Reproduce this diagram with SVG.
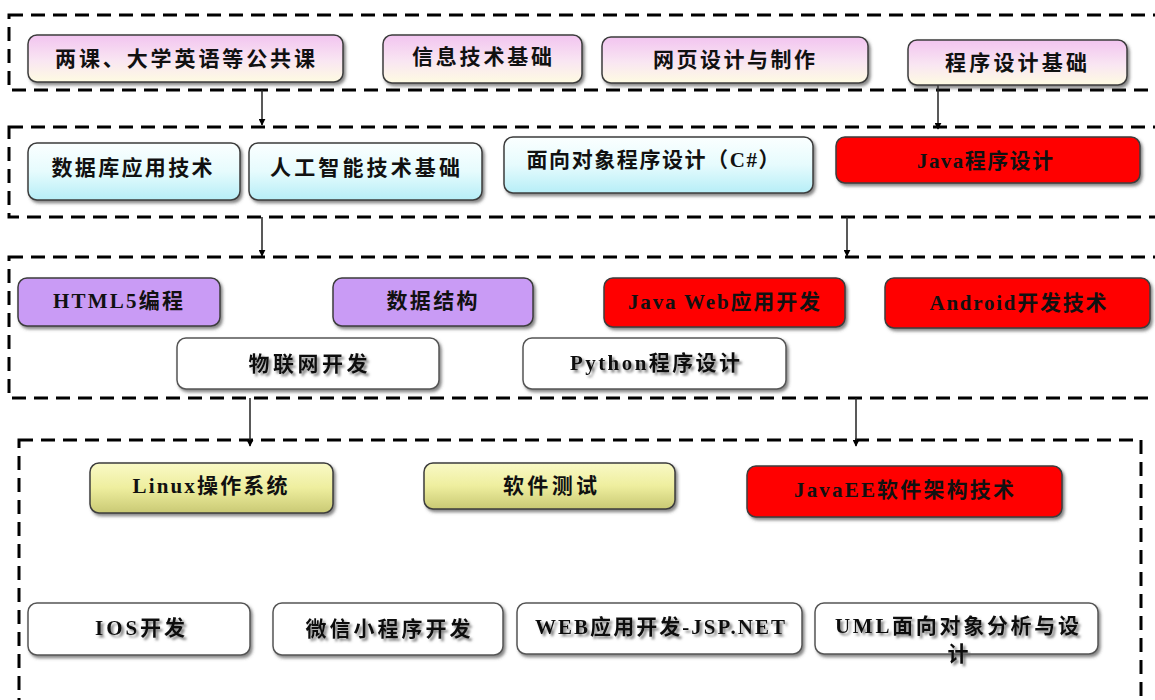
<svg xmlns="http://www.w3.org/2000/svg" width="1155" height="700" viewBox="0 0 1155 700">
<defs>
<linearGradient id="gPink" x1="0" y1="0" x2="0" y2="1">
<stop offset="0" stop-color="#f2c4f0"/><stop offset="0.55" stop-color="#f9e6f2"/><stop offset="1" stop-color="#fefbe2"/>
</linearGradient>
<linearGradient id="gCyan" x1="0" y1="0" x2="0" y2="1">
<stop offset="0" stop-color="#fbffff"/><stop offset="0.5" stop-color="#e6fbfd"/><stop offset="1" stop-color="#b6eef7"/>
</linearGradient>
<linearGradient id="gYel" x1="0" y1="0" x2="0" y2="1">
<stop offset="0" stop-color="#f9f9c6"/><stop offset="0.5" stop-color="#eeee9e"/><stop offset="1" stop-color="#c9c974"/>
</linearGradient>
<filter id="sh" x="-5%" y="-20%" width="115%" height="150%">
<feDropShadow dx="2" dy="2.5" stdDeviation="1.5" flood-color="#444" flood-opacity="0.65"/>
</filter>
<filter id="tsh" x="-5%" y="-20%" width="115%" height="160%">
<feDropShadow dx="2.5" dy="2.5" stdDeviation="1" flood-color="#666" flood-opacity="0.8"/>
</filter>
<marker id="ah" viewBox="0 0 10 10" refX="9" refY="5" markerWidth="7" markerHeight="7" orient="auto" markerUnits="userSpaceOnUse">
<path d="M0,0 L10,5 L0,10 z" fill="#000"/>
</marker>
<style>
.grp{fill:none;stroke:#000;stroke-width:3;stroke-dasharray:14 8}
.box{stroke:#3c3c3c;stroke-width:1.5;filter:url(#sh)}
.pink{fill:url(#gPink)}
.cyan{fill:url(#gCyan)}
.purp{fill:#c99bf5}
.red{fill:#ff0000}
.yel{fill:url(#gYel)}
.wht{fill:#ffffff;stroke:#555}
.t{font-family:"Liberation Serif","Noto Sans CJK SC",serif;font-weight:bold;font-size:21px;fill:#111;text-anchor:middle}
.tw{filter:url(#tsh)}
.con{stroke:#222;stroke-width:1.5;fill:none;marker-end:url(#ah)}
</style>
</defs>
<rect width="1155" height="700" fill="#ffffff"/>

<g id="groups">
<rect class="grp" x="9" y="15" width="1170" height="75"/>
<rect class="grp" x="9" y="127" width="1170" height="90"/>
<rect class="grp" x="9" y="257" width="1170" height="141"/>
<rect class="grp" x="19" y="440" width="1122" height="290"/>
</g>

<g id="connectors">
<line class="con" x1="262" y1="90" x2="262" y2="125"/>
<line class="con" x1="938" y1="85" x2="938" y2="129"/>
<line class="con" x1="262" y1="217" x2="262" y2="256"/>
<line class="con" x1="847" y1="217" x2="847" y2="256"/>
<line class="con" x1="250" y1="398" x2="250" y2="446"/>
<line class="con" x1="856" y1="398" x2="856" y2="446"/>
</g>

<g id="n1"><rect class="box pink" x="28" y="35" width="315" height="47" rx="9"/><text class="t" x="185" y="66" font-size="23" textLength="260" lengthAdjust="spacing">两课、大学英语等公共课</text></g>
<g id="n2"><rect class="box pink" x="383" y="35" width="199" height="48" rx="9"/><text class="t" x="482" y="64" textLength="140" lengthAdjust="spacing">信息技术基础</text></g>
<g id="n3"><rect class="box pink" x="602" y="37" width="266" height="46" rx="9"/><text class="t" x="734" y="67" textLength="162" lengthAdjust="spacing">网页设计与制作</text></g>
<g id="n4"><rect class="box pink" x="908" y="40" width="219" height="45" rx="9"/><text class="t" x="1016" y="70" textLength="142" lengthAdjust="spacing">程序设计基础</text></g>

<g id="n5"><rect class="box cyan" x="28" y="143" width="212" height="57" rx="9"/><text class="t" x="132" y="175" textLength="161" lengthAdjust="spacing">数据库应用技术</text></g>
<g id="n6"><rect class="box cyan" x="249" y="143" width="233" height="57" rx="9"/><text class="t" x="365" y="175" textLength="190" lengthAdjust="spacing">人工智能技术基础</text></g>
<g id="n7"><rect class="box cyan" x="504" y="137" width="309" height="56" rx="9"/><text class="t" x="653" y="167" textLength="253" lengthAdjust="spacing">面向对象程序设计（C#）</text></g>
<g id="n8"><rect class="box red" x="836" y="137" width="304" height="46" rx="9"/><text class="t" x="985" y="168" textLength="136" lengthAdjust="spacing">Java程序设计</text></g>

<g id="n9"><rect class="box purp" x="18" y="278" width="202" height="48" rx="9"/><text class="t" x="118" y="308" textLength="130" lengthAdjust="spacing">HTML5编程</text></g>
<g id="n10"><rect class="box purp" x="333" y="278" width="200" height="48" rx="9"/><text class="t" x="432" y="308" textLength="91" lengthAdjust="spacing">数据结构</text></g>
<g id="n11"><rect class="box red" x="604" y="278" width="241" height="49" rx="9"/><text class="t" x="724" y="309" textLength="192" lengthAdjust="spacing">Java Web应用开发</text></g>
<g id="n12"><rect class="box red" x="885" y="278" width="265" height="50" rx="9"/><text class="t" x="1018" y="310" textLength="177" lengthAdjust="spacing">Android开发技术</text></g>
<g id="n13"><rect class="box wht" x="177" y="338" width="262" height="51" rx="9"/><text class="t tw" x="308" y="371" textLength="119" lengthAdjust="spacing">物联网开发</text></g>
<g id="n14"><rect class="box wht" x="523" y="338" width="263" height="51" rx="9"/><text class="t tw" x="655" y="370" textLength="170" lengthAdjust="spacing">Python程序设计</text></g>

<g id="n15"><rect class="box yel" x="90" y="463" width="243" height="50" rx="9"/><text class="t" x="210" y="493" textLength="155" lengthAdjust="spacing">Linux操作系统</text></g>
<g id="n16"><rect class="box yel" x="424" y="463" width="251" height="46" rx="9"/><text class="t" x="550" y="493" textLength="94" lengthAdjust="spacing">软件测试</text></g>
<g id="n17"><rect class="box red" x="747" y="466" width="315" height="51" rx="9"/><text class="t" x="904" y="497" textLength="220" lengthAdjust="spacing">JavaEE软件架构技术</text></g>
<g id="n18"><rect class="box wht" x="28" y="603" width="222" height="52" rx="9"/><text class="t tw" x="140" y="635" textLength="90" lengthAdjust="spacing">IOS开发</text></g>
<g id="n19"><rect class="box wht" x="273" y="603" width="230" height="52" rx="9"/><text class="t tw" x="388" y="636" textLength="165" lengthAdjust="spacing">微信小程序开发</text></g>
<g id="n20"><rect class="box wht" x="517" y="603" width="285" height="51" rx="9"/><text class="t tw" x="660" y="634" textLength="250" lengthAdjust="spacing">WEB应用开发-JSP.NET</text></g>
<g id="n21"><rect class="box wht" x="815" y="603" width="283" height="51" rx="9"/><text class="t tw" x="957" y="633" textLength="244" lengthAdjust="spacing">UML面向对象分析与设</text><text class="t tw" x="958" y="661">计</text></g>
</svg>
